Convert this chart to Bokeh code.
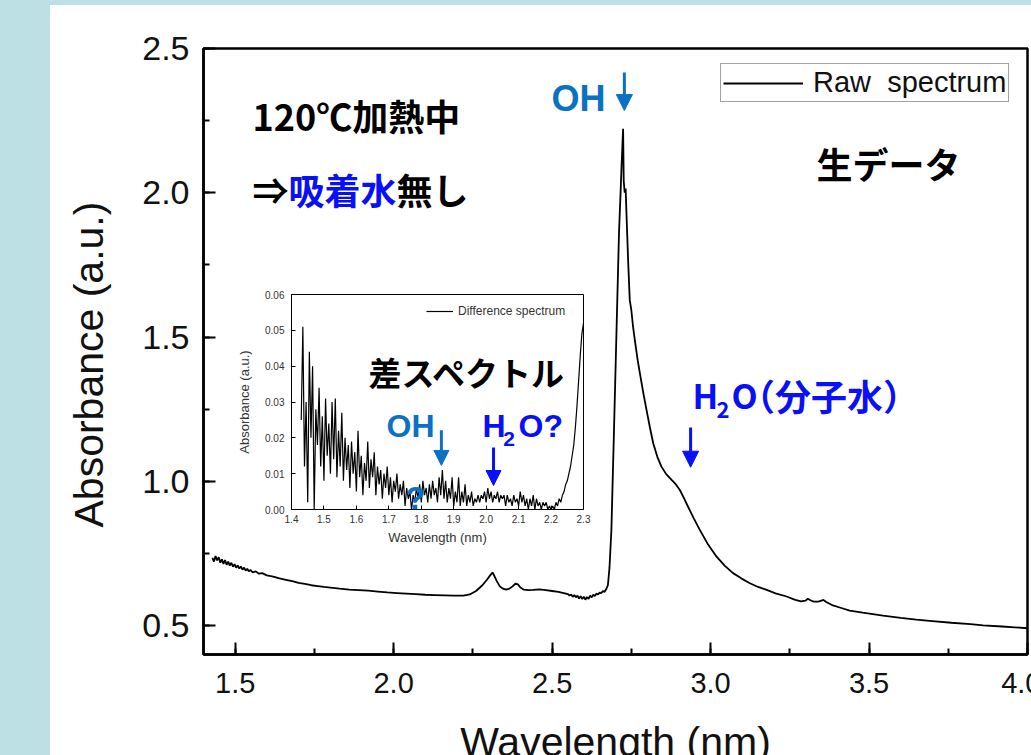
from bokeh.plotting import figure
from bokeh.models import (Range1d, SingleIntervalTicker, FixedTicker, PrintfTickFormatter, Label, Arrow,
                          NormalHead, Legend, LegendItem, GridBox, Spacer, Title)
from bokeh.embed import file_html
from bokeh.resources import INLINE

# ---------------- data: raw spectrum (main panel) ----------------
raw_wl = [1.428, 1.433, 1.438, 1.443, 1.448, 1.453, 1.458, 1.463, 1.468, 1.473,
          1.478, 1.483, 1.488, 1.493, 1.498, 1.503, 1.508, 1.513, 1.518, 1.523,
          1.528, 1.533, 1.538, 1.543, 1.548, 1.555, 1.565, 1.575, 1.585, 1.600,
          1.620, 1.640, 1.660, 1.680, 1.700, 1.720, 1.740, 1.760, 1.780, 1.800,
          1.830, 1.860, 1.890, 1.920, 1.950, 1.980, 2.010, 2.040, 2.070, 2.100,
          2.130, 2.160, 2.190, 2.220, 2.240, 2.260, 2.280, 2.295, 2.305, 2.312,
          2.318, 2.325, 2.335, 2.345, 2.355, 2.365, 2.375, 2.385, 2.392, 2.400,
          2.410, 2.425, 2.440, 2.460, 2.480, 2.500, 2.520, 2.540, 2.550, 2.555,
          2.560, 2.565, 2.570, 2.575, 2.580, 2.585, 2.590, 2.595, 2.600, 2.605,
          2.610, 2.615, 2.620, 2.625, 2.630, 2.635, 2.640, 2.645, 2.650, 2.655,
          2.660, 2.665, 2.670, 2.676, 2.681, 2.687, 2.695, 2.703, 2.711, 2.716,
          2.719, 2.722, 2.724, 2.726, 2.729, 2.732, 2.735, 2.740, 2.745, 2.750,
          2.755, 2.761, 2.770, 2.777, 2.788, 2.798, 2.808, 2.819, 2.832, 2.845,
          2.860, 2.877, 2.890, 2.903, 2.916, 2.929, 2.947, 2.966, 2.990, 3.019,
          3.045, 3.071, 3.098, 3.124, 3.150, 3.177, 3.205, 3.240, 3.265, 3.285,
          3.300, 3.307, 3.315, 3.325, 3.340, 3.350, 3.356, 3.365, 3.386, 3.410,
          3.439, 3.480, 3.544, 3.600, 3.649, 3.700, 3.760, 3.820, 3.860, 3.920,
          3.960, 4.000]
raw_abs = [0.735, 0.722, 0.741, 0.726, 0.737, 0.718, 0.730, 0.714, 0.727, 0.711,
           0.722, 0.708, 0.718, 0.704, 0.713, 0.701, 0.709, 0.698, 0.705, 0.694,
           0.701, 0.691, 0.697, 0.688, 0.693, 0.685, 0.688, 0.680, 0.682, 0.674,
           0.670, 0.664, 0.659, 0.654, 0.648, 0.645, 0.640, 0.637, 0.634, 0.632,
           0.628, 0.625, 0.623, 0.621, 0.618, 0.615, 0.613, 0.611, 0.609, 0.607,
           0.606, 0.605, 0.604, 0.604, 0.608, 0.620, 0.640, 0.660, 0.675, 0.684,
           0.672, 0.655, 0.636, 0.628, 0.625, 0.628, 0.636, 0.646, 0.643, 0.632,
           0.625, 0.623, 0.624, 0.626, 0.623, 0.620, 0.617, 0.612, 0.609, 0.604,
           0.608, 0.600, 0.606, 0.598, 0.604, 0.594, 0.602, 0.592, 0.600, 0.590,
           0.599, 0.593, 0.604, 0.598, 0.607, 0.603, 0.611, 0.608, 0.615, 0.612,
           0.620, 0.617, 0.625, 0.640, 0.700, 0.830, 1.167, 1.513, 1.860, 2.000,
           2.089, 2.170, 2.222, 2.040, 2.000, 2.015, 1.916, 1.760, 1.628, 1.593,
           1.540, 1.489, 1.420, 1.374, 1.305, 1.247, 1.190, 1.132, 1.085, 1.051,
           1.025, 1.005, 0.990, 0.970, 0.942, 0.912, 0.872, 0.832, 0.785, 0.739,
           0.707, 0.682, 0.663, 0.647, 0.634, 0.624, 0.612, 0.601, 0.590, 0.584,
           0.587, 0.593, 0.588, 0.583, 0.583, 0.587, 0.589, 0.582, 0.570, 0.562,
           0.552, 0.545, 0.535, 0.527, 0.521, 0.516, 0.510, 0.505, 0.501, 0.497,
           0.494, 0.491]

# ---------------- data: difference spectrum (inset), 0.005 nm sampling from 1.430 nm ----------------
diff_start = 1.430
diff_step = 0.005
diff_abs = [0.025, 0.051, 0.012, 0.030, 0.002, 0.044, 0.020, 0.040, 0.000, 0.028,
            0.018, 0.034, 0.012, 0.026, 0.008, 0.031, 0.015, 0.024, 0.010, 0.030,
            0.014, 0.031, 0.009, 0.022, 0.012, 0.027, 0.008, 0.020, 0.011, 0.018,
            0.006, 0.019, 0.010, 0.016, 0.005, 0.022, 0.009, 0.015, 0.004, 0.013,
            0.008, 0.019, 0.006, 0.014, 0.009, 0.016, 0.004, 0.012, 0.007, 0.011,
            0.003, 0.010, 0.006, 0.012, 0.004, 0.009, 0.002, 0.008, 0.005, 0.010,
            0.003, 0.007, 0.004, 0.008, 0.001, 0.006, 0.003, 0.005, 0.000, 0.004,
            0.002, 0.006, 0.003, 0.007, 0.002, 0.008, 0.004, 0.006, 0.002, 0.007,
            0.003, 0.008, 0.004, 0.006, 0.002, 0.009, 0.004, 0.011, 0.003, 0.008,
            0.002, 0.006, 0.003, 0.009, 0.001, 0.005, 0.002, 0.009, 0.001, 0.005,
            0.002, 0.007, 0.001, 0.004, 0.002, 0.005, 0.001, 0.003, 0.002, 0.004,
            0.002, 0.004, 0.003, 0.005, 0.002, 0.006, 0.003, 0.005, 0.002, 0.004,
            0.003, 0.005, 0.002, 0.004, 0.003, 0.004, 0.001, 0.004, 0.002, 0.003,
            0.001, 0.004, 0.002, 0.003, 0.001, 0.005, 0.002, 0.004, 0.001, 0.003,
            0.000, 0.003, 0.001, 0.004, 0.000, 0.003, 0.001, 0.002, 0.000, 0.002,
            0.001, 0.002, 0.000, 0.001, 0.000, 0.001, 0.000, 0.002, 0.001, 0.003,
            0.002, 0.004, 0.005, 0.007, 0.008, 0.010, 0.012, 0.015, 0.018, 0.023,
            0.029, 0.036, 0.043, 0.049, 0.052]
diff_wl = [round(diff_start + diff_step * i, 3) for i in range(len(diff_abs))]

main_x_ticks_interval = 0.5
main_y_ticks_interval = 0.5
inset_x_ticks = [1.4, 1.5, 1.6, 1.7, 1.8, 1.9, 2.0, 2.1, 2.2, 2.3]
inset_y_ticks = [0.00, 0.01, 0.02, 0.03, 0.04, 0.05, 0.06]

BG = "#bce0e4"
STEEL = "#0a72c2"
BLUE = "#0a10f5"
LATIN = "Liberation Sans"
CJK = "Noto Sans CJK JP"

# ---------------- main figure ----------------
# transparent border so the white panel / blue page strip underneath show through
p = figure(width=1009, height=773, x_range=Range1d(1.4, 4.0), y_range=Range1d(0.4, 2.5),
           output_backend="svg", toolbar_location=None,
           min_border_left=171, min_border_right=14, min_border_top=43, min_border_bottom=124,
           background_fill_color="white", border_fill_alpha=0.0)
p.grid.visible = False
p.outline_line_color = "black"
p.outline_line_width = 2.5
p.outline_line_alpha = 1.0

p.xaxis.ticker = SingleIntervalTicker(interval=main_x_ticks_interval, num_minor_ticks=2)
p.yaxis.ticker = SingleIntervalTicker(interval=main_y_ticks_interval, num_minor_ticks=2)
p.xaxis.formatter = PrintfTickFormatter(format="%.1f")
p.yaxis.formatter = PrintfTickFormatter(format="%.1f")
for ax in (p.xaxis[0], p.yaxis[0]):
    ax.axis_line_color = "black"
    ax.axis_line_width = 2.5
    ax.major_tick_in = 12
    ax.major_tick_out = 0
    ax.minor_tick_in = 6
    ax.minor_tick_out = 0
    ax.major_tick_line_width = 2
    ax.minor_tick_line_width = 2
    ax.major_tick_line_color = "black"
    ax.minor_tick_line_color = "black"
    ax.major_label_text_color = "#111111"
    ax.major_label_text_font = LATIN
    ax.axis_label_text_font = LATIN
    ax.axis_label_text_font_style = "normal"
    ax.axis_label_text_font_size = "41px"
    ax.axis_label_text_color = "#111111"
p.yaxis.major_label_text_font_size = "34px"
p.yaxis.major_label_standoff = 14
p.xaxis.major_label_text_font_size = "29px"
p.xaxis.major_label_standoff = 18
p.xaxis.axis_label = "Wavelength (nm)"
p.xaxis.axis_label_standoff = 23

p.add_layout(Title(text="Absorbance (a.u.)", align="left", offset=127, standoff=56,
                   text_font=LATIN, text_font_size="41px", text_font_style="normal",
                   text_color="#111111"), "left")

raw_r = p.line(raw_wl, raw_abs, line_color="black", line_width=1.8)

legend = Legend(items=[LegendItem(label="Raw  spectrum", renderers=[raw_r])],
                location=(517, 552), margin=0, padding=2, spacing=0,
                glyph_width=80, glyph_height=24, label_standoff=10,
                label_text_font=LATIN, label_text_font_size="29px", label_text_color="#111111",
                border_line_color="#444444", border_line_width=1.2,
                background_fill_color="white", background_fill_alpha=1.0)
p.add_layout(legend)

def lab(fig, x, y, text, color, size, font=CJK, align="left"):
    fig.add_layout(Label(x=x, y=y, text=text, text_align=align, text_baseline="middle",
                         text_font=font, text_font_size=size, text_font_style="bold",
                         text_color=color))

def arrow(fig, x, y0, y1, color, head=16, width=3):
    fig.add_layout(Arrow(end=NormalHead(size=head, fill_color=color, line_color=color, line_width=1),
                         x_start=x, y_start=y0, x_end=x, y_end=y1,
                         line_color=color, line_width=width))

lab(p, 1.5546, 2.268, "120℃加熱中", "black", "36px")
lab(p, 1.5546, 2.013, "⇒", "black", "36px")
lab(p, 1.6682, 2.013, "吸着水", BLUE, "36px")
lab(p, 2.0090, 2.013, "無し", "black", "36px")
lab(p, 3.3344, 2.102, "生データ", "black", "36px")
lab(p, 2.5833, 2.3268, "OH", STEEL, "36px", font=LATIN, align="center")
arrow(p, 2.728, 2.417, 2.285, STEEL)
lab(p, 2.9431, 1.300, "H", BLUE, "34px")
lab(p, 3.0189, 1.250, "2", BLUE, "22px")
lab(p, 3.0661, 1.300, "O", BLUE, "34px")
lab(p, 3.0900, 1.300, "（分子水）", BLUE, "36px")
arrow(p, 2.937, 1.187, 1.049, BLUE)

# ---------------- inset figure ----------------
q = figure(width=364, height=264, x_range=Range1d(1.4, 2.3), y_range=Range1d(0.0, 0.06),
           output_backend="svg", toolbar_location=None,
           min_border_left=63, min_border_right=9, min_border_top=8, min_border_bottom=41,
           background_fill_alpha=0.0, border_fill_alpha=0.0)
q.grid.visible = False
q.outline_line_color = "black"
q.outline_line_width = 1
q.outline_line_alpha = 1.0
q.xaxis.ticker = FixedTicker(ticks=inset_x_ticks)
q.yaxis.ticker = FixedTicker(ticks=inset_y_ticks)
q.xaxis.formatter = PrintfTickFormatter(format="%.1f")
q.yaxis.formatter = PrintfTickFormatter(format="%.2f")
q.xaxis.axis_label = "Wavelength (nm)"
q.yaxis.axis_label = "Absorbance (a.u.)"
for ax in (q.xaxis[0], q.yaxis[0]):
    ax.axis_line_color = "black"
    ax.axis_line_width = 1
    ax.major_tick_in = 4
    ax.major_tick_out = 0
    ax.minor_tick_line_color = None
    ax.major_tick_line_color = "black"
    ax.major_label_text_font = LATIN
    ax.major_label_text_font_size = "10px"
    ax.major_label_text_color = "#333333"
    ax.axis_label_text_font = LATIN
    ax.axis_label_text_font_size = "13px"
    ax.axis_label_text_font_style = "normal"
    ax.axis_label_text_color = "#333333"
q.xaxis.major_label_standoff = 5
q.yaxis.major_label_standoff = 7
q.xaxis.axis_label_standoff = 4
q.yaxis.axis_label_standoff = 10

diff_r = q.line(diff_wl, diff_abs, line_color="black", line_width=1.2)
ilegend = Legend(items=[LegendItem(label="Difference spectrum", renderers=[diff_r])],
                 location=(135, 191), margin=0, padding=3, spacing=0,
                 glyph_width=27, glyph_height=12, label_standoff=5, label_height=12,
                 label_text_font=LATIN, label_text_font_size="12px", label_text_color="#333333",
                 border_line_color=None, background_fill_alpha=0.0)
q.add_layout(ilegend)

lab(q, 1.637, 0.0385, "差スペクトル", "black", "33px")
lab(q, 1.693, 0.0232, "OH", STEEL, "32px", font=LATIN)
arrow(q, 1.862, 0.0221, 0.0123, STEEL, head=15)
lab(q, 1.989, 0.0232, "H", BLUE, "32px", font=LATIN)
lab(q, 2.0526, 0.0198, "2", BLUE, "21px", font=LATIN)
lab(q, 2.0998, 0.0232, "O?", BLUE, "32px", font=LATIN)
arrow(q, 2.0227, 0.0173, 0.0067, BLUE, head=15)
lab(q, 1.782, 0.0032, "?", STEEL, "32px", font=LATIN, align="center")

q.styles = {"position": "absolute", "left": "228px", "top": "286px", "z-index": "10"}

# ---------------- page layout ----------------
bg = Spacer(width=1031, height=755, styles={"background-color": BG})
panel = Spacer(width=981, height=750, margin=(5, 0, 0, 50), styles={"background-color": "white"})
p.margin = (5, 0, 0, 32)
layout = GridBox(children=[(bg, 0, 0), (panel, 0, 0), (p, 0, 0)], width=1031, height=755,
                 styles={"overflow": "hidden", "background-color": BG})

open("out.html", "w").write(file_html([layout, q], INLINE))
